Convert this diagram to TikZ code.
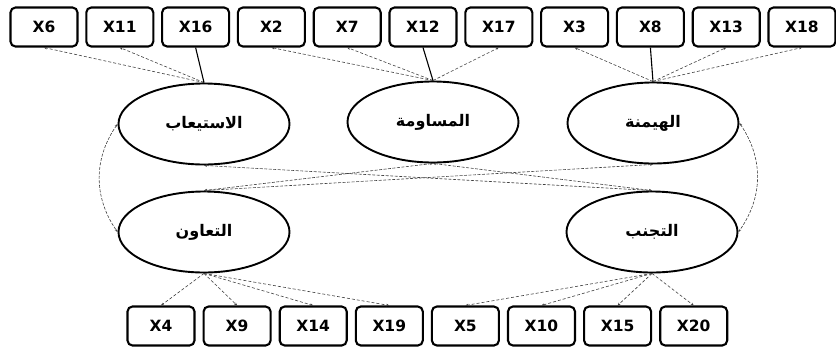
\documentclass[tikz,border=0pt]{standalone}
\usepackage{fontspec}
\setmainfont{DejaVu Sans}
\newfontfamily\arabicfont[Script=Arabic]{DejaVu Sans}
\TeXXeTstate=1
\usepackage{tikz}
\usetikzlibrary{arrows.meta, shapes.geometric}

\begin{document}
\begin{tikzpicture}[
  x=1pt, y=-1pt,
  indbox/.style={draw, line width=2.1pt, rounded corners=5pt,
    minimum width=67pt, minimum height=39pt, inner sep=0pt,
    font=\bfseries\fontsize{15.5}{15.5}\selectfont},
  factor/.style={draw, ellipse, line width=1.9pt, minimum width=171pt,
    minimum height=81pt, inner sep=0pt,
    font=\arabicfont\bfseries\fontsize{16}{16}\selectfont},
  load/.style={draw=black!75, line width=0.6pt, dash pattern=on 3pt off 2pt,
    -{Stealth[length=3pt, width=2.5pt]}},
  fixed/.style={draw=black, line width=1.1pt},
  cov/.style={draw=black!75, line width=0.6pt, dash pattern=on 3pt off 1.5pt,
    {Stealth[length=3pt, width=2.5pt]}-{Stealth[length=3pt, width=2.5pt]}},
]
\useasboundingbox (0,0) rectangle (836,349);

% observed items, top and bottom rows
\foreach \lab [count=\i from 0] in {6,11,16,2,7,12,17,3,8,13,18}
  \node[indbox] (x\lab) at ({44+75.8*\i},27) {X\lab};
\foreach \lab [count=\i from 0] in {4,9,14,19,5,10,15,20}
  \node[indbox] (x\lab) at ({161+76.1*\i},326) {X\lab};

% latent factors
\node[factor] (accom)  at (204,124) {\beginR الاستيعاب\endR};
\node[factor] (compro) at (433,122) {\beginR المساومة\endR};
\node[factor] (domin)  at (653,123) {\beginR الهيمنة\endR};
\node[factor] (collab) at (204,232) {\beginR التعاون\endR};
\node[factor] (avoid)  at (652,232) {\beginR التجنب\endR};

% loadings
\foreach \b/\s in {6/load,11/load,16/fixed}
  \draw[\s] (accom.north) -- (x\b.south);
\foreach \b/\s in {2/load,7/load,12/fixed,17/load}
  \draw[\s] (compro.north) -- (x\b.south);
\foreach \b/\s in {3/load,8/fixed,13/load,18/load}
  \draw[\s] (domin.north) -- (x\b.south);
\foreach \b in {4,9,14,19}
  \draw[load] (collab.south) -- (x\b.north);
\foreach \b in {5,10,15,20}
  \draw[load] (avoid.south) -- (x\b.north);

% covariances
\draw[cov] (accom.west) to[bend right=35] (collab.west);
\draw[cov] (domin.east) to[bend left=35] (avoid.east);
\draw[cov] (accom.south) -- (avoid.north);
\draw[cov] (domin.south) -- (collab.north);
\draw[cov] (compro.south) -- (collab.north);
\draw[cov] (compro.south) -- (avoid.north);
\end{tikzpicture}
\end{document}
